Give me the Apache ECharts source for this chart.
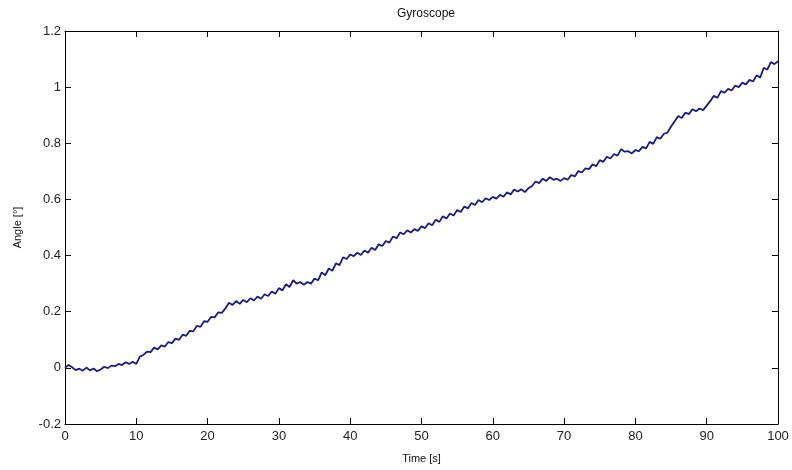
<!DOCTYPE html>
<html>
<head>
<meta charset="utf-8">
<script src="https://cdn.jsdelivr.net/npm/echarts@6/dist/echarts.min.js"></script>
<style>html,body{margin:0;padding:0;background:#fff}#c{width:792px;height:470px}</style>
</head>
<body>
<div id="c"></div>
<script>
// Angle readings every 0.5 s from 0 to 100 s
const angle = [
 0.000, 0.010, 0.002, -0.008, -0.003, -0.010, 0.001, -0.009, -0.002, -0.012,
 -0.006, 0.004, -0.001, 0.008, 0.006, 0.014, 0.010, 0.020, 0.014, 0.022,
 0.014, 0.040, 0.046, 0.058, 0.056, 0.072, 0.066, 0.080, 0.076, 0.092,
 0.088, 0.104, 0.100, 0.118, 0.114, 0.132, 0.130, 0.150, 0.146, 0.166,
 0.164, 0.182, 0.180, 0.198, 0.196, 0.212, 0.232, 0.224, 0.238, 0.228,
 0.242, 0.234, 0.248, 0.240, 0.254, 0.246, 0.262, 0.256, 0.272, 0.264,
 0.284, 0.276, 0.298, 0.288, 0.312, 0.300, 0.306, 0.296, 0.306, 0.300,
 0.318, 0.312, 0.340, 0.330, 0.354, 0.346, 0.372, 0.366, 0.394, 0.388,
 0.404, 0.398, 0.410, 0.402, 0.418, 0.410, 0.428, 0.420, 0.440, 0.434,
 0.452, 0.446, 0.468, 0.462, 0.482, 0.476, 0.490, 0.482, 0.494, 0.488,
 0.504, 0.498, 0.515, 0.508, 0.528, 0.520, 0.540, 0.532, 0.550, 0.543,
 0.562, 0.555, 0.575, 0.568, 0.587, 0.580, 0.598, 0.590, 0.604, 0.598,
 0.609, 0.603, 0.616, 0.610, 0.625, 0.618, 0.635, 0.628, 0.636, 0.626,
 0.640, 0.648, 0.664, 0.658, 0.674, 0.666, 0.679, 0.670, 0.674, 0.666,
 0.676, 0.670, 0.687, 0.682, 0.701, 0.696, 0.711, 0.708, 0.725, 0.718,
 0.740, 0.734, 0.752, 0.746, 0.762, 0.756, 0.779, 0.770, 0.772, 0.764,
 0.776, 0.772, 0.787, 0.782, 0.805, 0.798, 0.822, 0.816, 0.834, 0.838,
 0.860, 0.878, 0.897, 0.890, 0.909, 0.904, 0.921, 0.914, 0.924, 0.918,
 0.934, 0.950, 0.969, 0.962, 0.986, 0.980, 0.994, 0.988, 1.006, 1.000,
 1.016, 1.010, 1.026, 1.020, 1.042, 1.034, 1.069, 1.062, 1.089, 1.082,
 1.092
];
const sampleStep = 0.5;
const time = angle.map((_, i) => i * sampleStep);
const xTicks = [0, 10, 20, 30, 40, 50, 60, 70, 80, 90, 100];
const yTicks = [-0.2, 0, 0.2, 0.4, 0.6, 0.8, 1, 1.2];

const FONT = 'Liberation Sans, Arial, sans-serif';
const tickStyle = {show: true, inside: true, length: 6, lineStyle: {color: '#000', width: 1}};
const lineStyle = {show: true, onZero: false, lineStyle: {color: '#000', width: 1}};

const chart = echarts.init(document.getElementById('c'), null, {renderer: 'canvas'});
chart.setOption({
  backgroundColor: '#fff',
  animation: false,
  title: {
    text: 'Gyroscope', left: 421, top: 3, textAlign: 'center',
    textStyle: {fontFamily: FONT, fontSize: 12, fontWeight: 'normal', color: '#111'}
  },
  grid: {left: 65, right: 14, top: 31, bottom: 46},
  xAxis: [{
    type: 'value', min: xTicks[0], max: xTicks[xTicks.length - 1], interval: 10,
    position: 'bottom',
    name: 'Time [s]', nameLocation: 'middle', nameGap: 29,
    nameTextStyle: {fontFamily: FONT, fontSize: 11, color: '#111'},
    axisLine: lineStyle, axisTick: tickStyle, splitLine: {show: false},
    axisLabel: {fontFamily: FONT, fontSize: 13, color: '#222', margin: 6}
  }, {
    type: 'value', min: xTicks[0], max: xTicks[xTicks.length - 1], interval: 10,
    position: 'top',
    axisLine: lineStyle, axisTick: tickStyle, splitLine: {show: false},
    axisLabel: {show: false}
  }],
  yAxis: [{
    type: 'value', min: yTicks[0], max: yTicks[yTicks.length - 1], interval: 0.2,
    position: 'left',
    name: 'Angle [°]', nameLocation: 'middle', nameGap: 42, nameRotate: 90,
    nameTextStyle: {fontFamily: FONT, fontSize: 11, color: '#111'},
    axisLine: lineStyle, axisTick: tickStyle, splitLine: {show: false},
    axisLabel: {fontFamily: FONT, fontSize: 13, color: '#222', margin: 4,
      formatter: v => String(Math.round(v * 10) / 10)}
  }, {
    type: 'value', min: yTicks[0], max: yTicks[yTicks.length - 1], interval: 0.2,
    position: 'right',
    axisLine: lineStyle, axisTick: tickStyle, splitLine: {show: false},
    axisLabel: {show: false}
  }],
  series: [{
    type: 'line', xAxisIndex: 0, yAxisIndex: 0,
    data: time.map((t, i) => [t, angle[i]]),
    showSymbol: false, smooth: false,
    lineStyle: {color: '#1c1c80', width: 1.8}
  }]
});
</script>
</body>
</html>
